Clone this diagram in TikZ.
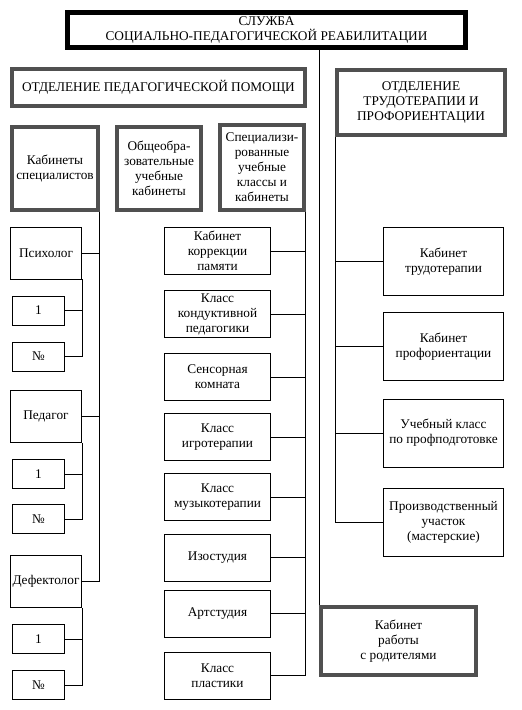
\documentclass[tikz,border=0pt]{standalone}
\usepackage{fontspec}
\setmainfont{Liberation Serif}
\usetikzlibrary{positioning}
\tikzstyle{chart} = [x = 1pt, y = -1pt]
\definecolor{frameColor}{RGB}{80,80,80}
\tikzstyle{boxText} = [font=\fontsize{13.3}{15}\selectfont, align=center, inner sep=0pt]
\tikzstyle{thinBox} = [boxText, draw=black, line width=.8pt]
\tikzstyle{frameBox} = [boxText, draw=frameColor, line width=3.5pt]
\tikzstyle{headBox} = [boxText, draw=black, line width=4.5pt]
\tikzstyle{linkLine} = [color=black, line width=.8pt]
\newcommand{\roomBox}[4]{\node [thinBox, minimum width=106pt, minimum height=47pt] (#1) at (#2,#3) {#4};}
\newcommand{\workBox}[3]{\node [thinBox, minimum width=120pt, minimum height=68pt] (#1) at (443.5,#2) {#3};}
\newcommand{\expertBox}[3]{\node [thinBox, minimum width=71pt, minimum height=52pt] (#1) at (46,#2) {#3};}
\newcommand{\numberBox}[3]{\node [thinBox, minimum width=52pt, minimum height=29pt] (#1) at (38.5,#2) {#3};}

\begin{document}
\begin{tikzpicture}[chart]
  \useasboundingbox (0,0) rectangle (522,710);
  \node [headBox, minimum width=398pt, minimum height=35pt] (service) at (266.5,30)
    {СЛУЖБА\\СОЦИАЛЬНО-ПЕДАГОГИЧЕСКОЙ РЕАБИЛИТАЦИИ};
  \node [frameBox, minimum width=293pt, minimum height=37pt] (pedDept) at (158.5,87.5)
    {ОТДЕЛЕНИЕ ПЕДАГОГИЧЕСКОЙ ПОМОЩИ};
  \node [frameBox, minimum width=168pt, minimum height=65pt] (laborDept) at (421,102.5)
    {ОТДЕЛЕНИЕ\\ТРУДОТЕРАПИИ И\\ПРОФОРИЕНТАЦИИ};
  \node [frameBox, minimum width=86pt, minimum height=83pt] (experts) at (55,168.5)
    {Кабинеты\\специалистов};
  \node [frameBox, minimum width=84pt, minimum height=83pt] (general) at (159,168.5)
    {Общеобра-\\зовательные\\учебные\\кабинеты};
  \node [frameBox, minimum width=84pt, minimum height=85pt] (special) at (262,167.5)
    {Специализи-\\рованные\\учебные\\классы и\\кабинеты};
  \node [frameBox, minimum width=155pt, minimum height=68pt] (parents) at (398.5,641)
    {Кабинет\\работы\\с родителями};

  % specialists
  \expertBox{psych}{253}{Психолог}
  \numberBox{psychOne}{310.5}{1}
  \numberBox{psychNo}{356.5}{№}
  \expertBox{teach}{416.5}{Педагог}
  \numberBox{teachOne}{474}{1}
  \numberBox{teachNo}{519}{№}
  \expertBox{defect}{581.5}{Дефектолог}
  \numberBox{defectOne}{639}{1}
  \numberBox{defectNo}{685}{№}
  \foreach \expert in {psych,teach,defect} {
    \draw [linkLine] (\expert.east) -| (experts.south east);
    \draw [linkLine] (\expert One.east) -| (\expert.south east);
    \draw [linkLine] (\expert No.east) -| (\expert.south east);
  }

  % special classes
  \foreach \name/\y/\txt in {memory/251/{Кабинет\\коррекции\\памяти},
      conduct/314/{Класс\\кондуктивной\\педагогики},
      sensor/377/{Сенсорная\\комната},
      play/437/{Класс\\игротерапии},
      music/497/{Класс\\музыкотерапии},
      iso/557.5/{Изостудия},
      art/613.5/{Артстудия},
      plastic/675.5/{Класс\\пластики}} {
    \roomBox{\name}{217.5}{\y}{\txt}
    \draw [linkLine] (\name.east) -| (special.south east);
  }

  % labour therapy
  \workBox{labor}{261.5}{Кабинет\\трудотерапии}
  \workBox{career}{346.5}{Кабинет\\профориентации}
  \workBox{training}{433}{Учебный класс\\по профподготовке}
  \workBox{workshop}{522}{Производственный\\участок\\(мастерские)}
  \foreach \name in {labor,career,training,workshop}
    \draw [linkLine] (\name.west) -| (laborDept.south west);

  \draw [linkLine] (service.south -| parents.north west) -- (parents.north west);
\end{tikzpicture}
\end{document}
